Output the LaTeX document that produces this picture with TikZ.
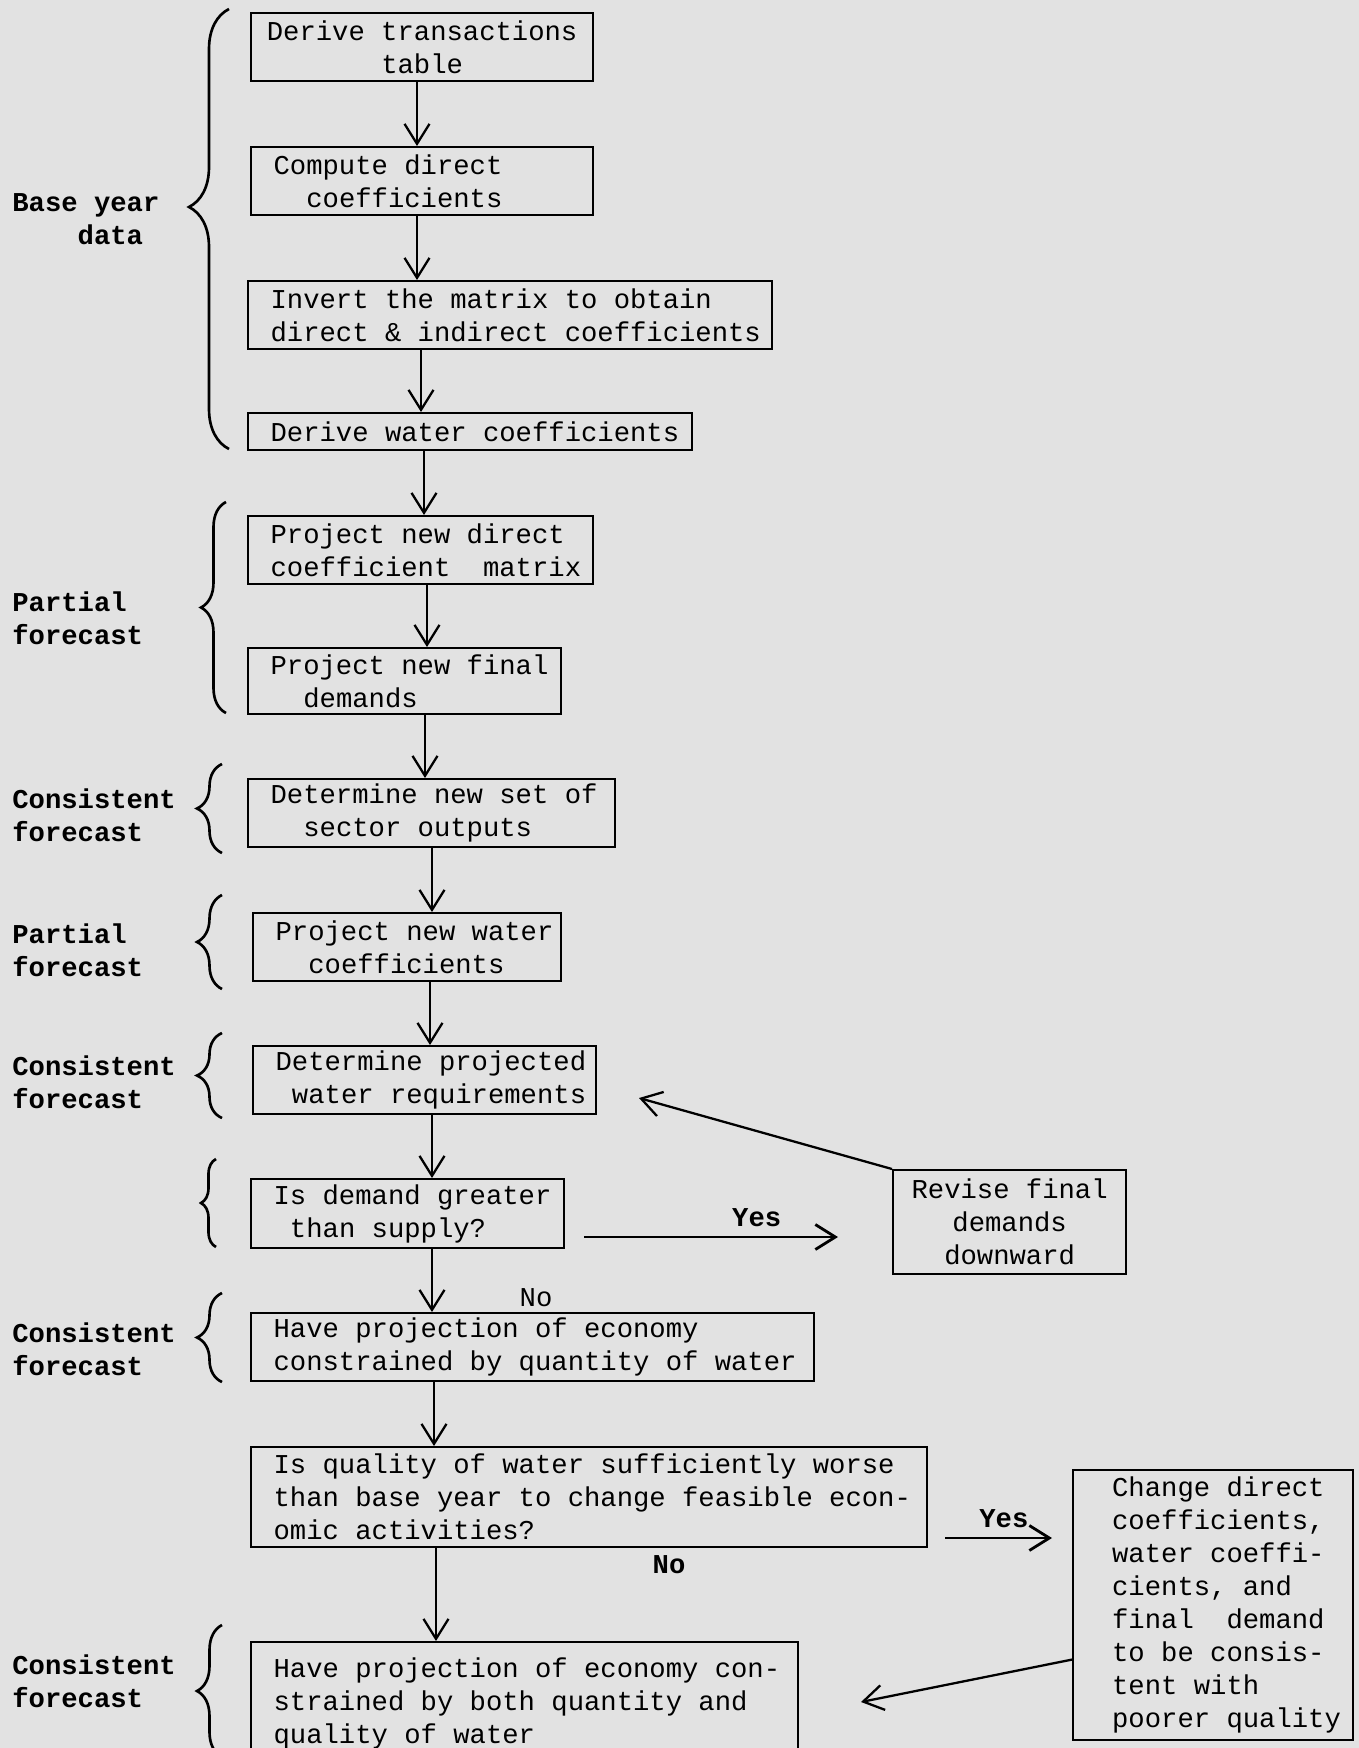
\documentclass[tikz,border=0pt]{standalone}
\usepackage{fontspec}
\setmonofont{Liberation Mono}[WordSpace={1,0,0}]
\usetikzlibrary{arrows.meta,calc,decorations.pathreplacing}
\definecolor{scan}{RGB}{226,226,226}
\tikzstyle{stage} = [rectangle, draw=black, line width=1.3pt, anchor=north west, align=left, inner xsep=0.45cm, inner ysep=0cm, font=\ttfamily\fontsize{15.5}{18.8}\selectfont, execute at begin node={\spaceskip=0pt\xspaceskip=0pt\rightskip=0pt minus 3cm}]
\tikzstyle{stagemid} = [rectangle, draw=black, line width=1.3pt, anchor=north west, align=center, inner xsep=0.1cm, inner ysep=0cm, font=\ttfamily\fontsize{15.5}{18.8}\selectfont, execute at begin node={\spaceskip=0pt\xspaceskip=0pt}]
\tikzstyle{side} = [anchor=west, align=left, inner sep=0pt, font=\ttfamily\bfseries\fontsize{15.5}{18.8}\selectfont, execute at begin node={\spaceskip=0pt\xspaceskip=0pt}]
\tikzstyle{answer} = [inner sep=0pt, font=\ttfamily\fontsize{15.5}{18.8}\selectfont]
\tikzstyle{flow} = [line width=1.3pt, -{Straight Barb[length=0.4cm,width=0.5cm]}]
\tikzstyle{curly} = [line width=1.5pt, decorate, decoration={brace, amplitude=0.5cm}]

\begin{document}
\begin{tikzpicture}[x=0.02cm, y=-0.02cm]
                \useasboundingbox (0,0) rectangle (1359,1748);
                \fill[scan] (0,0) rectangle (1359,1748);
                \clip (0,0) rectangle (1359,1748);

                \node [stagemid, minimum width=6.84cm, minimum height=1.36cm] (derive) at (250,12) {Derive transactions\\table};
                \node [stage, text width=5.94cm, minimum height=1.36cm] (compute) at (250,146) {Compute direct\\\hphantom{xx}coefficients};
                \node [stage, text width=9.58cm, minimum height=1.36cm] (invert) at (247,280) {Invert the matrix to obtain\\direct \& indirect coefficients};
                \node [stage, text width=7.98cm, minimum height=0.74cm] (watercoef) at (247,412) {Derive water coefficients};
                \node [stage, text width=6.00cm, minimum height=1.36cm] (projdirect) at (247,515) {Project new direct\\coefficient~ matrix};
                \node [stage, text width=5.36cm, minimum height=1.32cm] (projfinal) at (247,647) {Project new final\\\hphantom{xx}demands};
                \node [stage, text width=6.44cm, minimum height=1.36cm] (outputs) at (247,778) {Determine new set of\\\hphantom{xx}sector outputs};
                \node [stage, text width=5.26cm, minimum height=1.36cm] (projwater) at (252,912) {Project new water\\\hphantom{xx}coefficients};
                \node [stage, text width=5.96cm, minimum height=1.36cm] (require) at (252,1045) {Determine projected\\\hphantom{x}water requirements};
                \node [stage, text width=5.36cm, minimum height=1.38cm] (supply) at (250,1178) {Is demand greater\\\hphantom{x}than supply?};
                \node [stagemid, minimum width=4.66cm, minimum height=2.08cm] (revise) at (892,1169) {Revise final\\demands\\downward};
                \node [stage, text width=10.36cm, minimum height=1.36cm] (quantity) at (250,1312) {Have projection of economy\\constrained by quantity of water};
                \node [stage, text width=12.62cm, minimum height=2.00cm] (quality) at (250,1446) {Is quality of water sufficiently worse\\than base year to change feasible econ-\\omic activities?};
                \node [stage, inner xsep=0.78cm, text width=4.04cm, minimum height=5.40cm] (change) at (1072,1469) {Change direct\\coefficients,\\water coeffi-\\cients, and\\final~ demand\\to be consis-\\tent with\\poorer quality};
                \node [stage, text width=10.04cm, minimum height=2.44cm] (both) at (250,1641) {Have projection of economy con-\\strained by both quantity and\\quality of water};

                \node [side] (basedata) at (12,219) {Base year\\\hphantom{xxxx}data};
                \node [side] (partialA) at (12,618) {Partial\\forecast};
                \node [side] (consistA) at (12,815) {Consistent\\forecast};
                \node [side] (partialB) at (12,950) {Partial\\forecast};
                \node [side] (consistB) at (12,1082) {Consistent\\forecast};
                \node [side] (consistC) at (12,1349) {Consistent\\forecast};
                \node [side] (consistD) at (12,1681) {Consistent\\forecast};

                \draw[curly, decoration={amplitude=0.8cm, aspect=0.55}] (229,449) -- (229,9);
                \draw[curly] (226,713) -- (226,502);
                \draw[curly] (222,853) -- (222,764);
                \draw[curly] (222,989) -- (222,895);
                \draw[curly] (222,1118) -- (222,1033);
                \draw[curly, decoration={amplitude=0.3cm}] (216,1247) -- (216,1159);
                \draw[curly] (222,1382) -- (222,1293);
                \draw[curly] (222,1757) -- (222,1625);

                \draw[flow] (derive.south -| 417,0) -- (compute.north -| 417,0);
                \draw[flow] (compute.south -| 417,0) -- (invert.north -| 417,0);
                \draw[flow] (invert.south -| 421,0) -- (watercoef.north -| 421,0);
                \draw[flow] (watercoef.south -| 424,0) -- (projdirect.north -| 424,0);
                \draw[flow] (projdirect.south -| 427,0) -- (projfinal.north -| 427,0);
                \draw[flow] (projfinal.south -| 425,0) -- (outputs.north -| 425,0);
                \draw[flow] (outputs.south -| 432,0) -- (projwater.north -| 432,0);
                \draw[flow] (projwater.south -| 430,0) -- (require.north -| 430,0);
                \draw[flow] (require.south -| 432,0) -- (supply.north -| 432,0);
                \draw[flow] (supply.south -| 432,0) -- (quantity.north -| 432,0);
                \draw[flow] (quantity.south -| 434,0) -- (quality.north -| 434,0);
                \draw[flow] (quality.south -| 436,0) -- (both.north -| 436,0);

                \coordinate (yesAfrom) at (584,1237);
                \coordinate (yesAto) at (838,1237);
                \draw[flow, line width=1.6pt] (yesAfrom) -- node[answer, pos=0.68, above=5pt, font=\ttfamily\bfseries\fontsize{15.5}{18.8}\selectfont] {Yes} (yesAto);
                \node [answer] (noA) at (536,1298) {No};

                \coordinate (yesBfrom) at (945,1538);
                \coordinate (yesBto) at (1052,1538);
                \draw[flow, line width=1.6pt] (yesBfrom) -- node[answer, pos=0.55, above=5pt, font=\ttfamily\bfseries\fontsize{15.5}{18.8}\selectfont] {Yes} (yesBto);
                \node [answer, font=\ttfamily\bfseries\fontsize{15.5}{18.8}\selectfont] (noB) at (669,1565) {No};

                \coordinate (revisetip) at (639,1098);
                \draw[flow] (revise.north west) -- (revisetip);
                \coordinate (changetip) at (861,1702);
                \draw[flow] ($(change.north west)!0.7!(change.south west)$) -- (changetip);
            \end{tikzpicture}
\end{document}
